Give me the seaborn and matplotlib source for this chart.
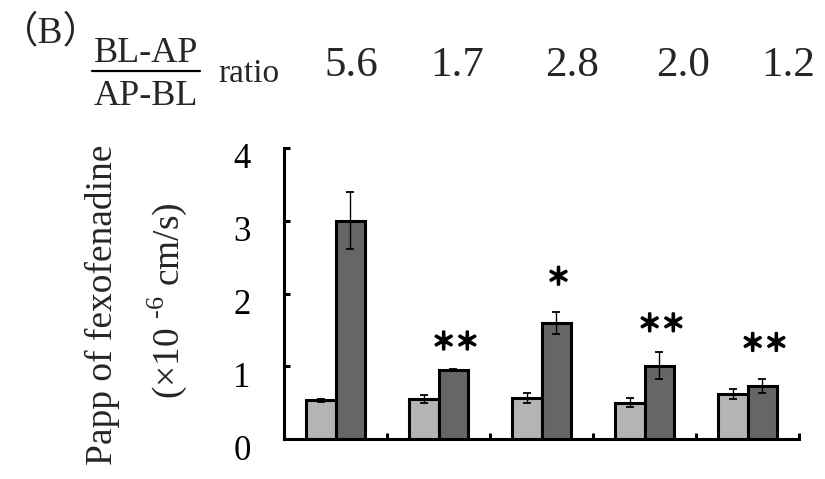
import numpy as np
import pandas as pd
import matplotlib
matplotlib.use("Agg")
import matplotlib.pyplot as plt
import matplotlib.patheffects as pe
import seaborn as sns
from matplotlib.lines import Line2D
from matplotlib.transforms import ScaledTranslation

# ---- data -------------------------------------------------------------
conditions = ["C1", "C2", "C3", "C4", "C5"]
directions = ["AP-BL", "BL-AP"]
ap_bl_mean = [0.53, 0.55, 0.56, 0.50, 0.62]
ap_bl_err = [0.02, 0.06, 0.07, 0.06, 0.07]
bl_ap_mean = [3.00, 0.95, 1.59, 1.01, 0.73]
bl_ap_err = [0.39, 0.01, 0.15, 0.18, 0.10]
ratio_labels = ["5.6", "1.7", "2.8", "2.0", "1.2"]
signif_labels = ["", "＊＊", "＊", "＊＊", "＊＊"]
signif_y = [0.0, 1.32, 2.21, 1.57, 1.30]
y_ticks = [0, 1, 2, 3, 4]

# ---- style ------------------------------------------------------------
sns.set_theme(style="ticks")
plt.rcParams["font.family"] = ["Liberation Serif", "Noto Sans CJK SC", "DejaVu Sans"]
plt.rcParams["mathtext.fontset"] = "custom"
plt.rcParams["mathtext.rm"] = "Liberation Serif"

W, H = 825, 479
fig = plt.figure(figsize=(W / 100, H / 100), dpi=100)
ax = fig.add_axes([284 / W, 1 - 439 / H, (799 - 284) / W, (439 - 148) / H])


def px(x, y):
    return x / W, 1 - y / H


df = pd.DataFrame({
    "condition": conditions * 2,
    "direction": [directions[0]] * 5 + [directions[1]] * 5,
    "papp": ap_bl_mean + bl_ap_mean,
})

light, dark = "#b4b4b4", "#666666"
sns.barplot(data=df, x="condition", y="papp", hue="direction",
            hue_order=directions, palette=[light, dark], width=0.58,
            edgecolor="black", linewidth=2.2, errorbar=None, legend=False,
            saturation=1, ax=ax)

# error bars on top of each bar
for cont, errs in zip(ax.containers, [ap_bl_err, bl_ap_err]):
    xs = [p.get_x() + p.get_width() / 2 for p in cont.patches]
    ys = [p.get_height() for p in cont.patches]
    ax.errorbar(xs, ys, yerr=errs, fmt="none", ecolor="black",
                elinewidth=1.0, capsize=3, capthick=1.3, zorder=5)

# significance marks above the BL-AP bars
dark_x = [p.get_x() + p.get_width() / 2 for p in ax.containers[1].patches]
for xc, lab, yv in zip(dark_x, signif_labels, signif_y):
    if lab:
        ax.text(xc + 0.02, yv, lab, ha="center", va="center",
                fontsize=17, family=["Noto Sans CJK SC"], color="black",
                path_effects=[pe.withStroke(linewidth=1.6, foreground="black")])

# axes
ax.set_xlim(-0.5, 4.5)
ax.set_ylim(0, 4)
ax.set_xlabel("")
ax.set_ylabel("")
ax.set_yticks(y_ticks)
ax.set_yticklabels([str(t) for t in y_ticks], fontsize=25)
ax.set_xticks([0.5, 1.5, 2.5, 3.5, 4.5])
ax.set_xticklabels([])
ax.tick_params(axis="y", direction="in", length=4, width=2.2, pad=24, colors="black")
ax.tick_params(axis="x", direction="in", length=4, width=2.2, colors="black")
shift = ScaledTranslation(0, -8 / 100, fig.dpi_scale_trans)
for lbl in ax.get_yticklabels():
    lbl.set_transform(lbl.get_transform() + shift)
for side in ["top", "right"]:
    ax.spines[side].set_visible(False)
for side in ["left", "bottom"]:
    ax.spines[side].set_linewidth(2.2)
    ax.spines[side].set_color("black")
ax.set_facecolor("white")

# y-axis title (two lines)
fig.text(*px(102, 305), "Papp of fexofenadine", rotation=90,
         ha="center", va="center", fontsize=27)
fig.text(*px(167, 301), "(×10 $^{\\mathregular{\u2010}6}$ cm/s)", rotation=90,
         ha="center", va="center", fontsize=27)

# panel letter and ratio header
fig.text(*px(1, 33), "（B）", ha="left", va="center", fontsize=27)
fig.text(*px(146, 54), "BL-AP", ha="center", va="center", fontsize=26)
fig.add_artist(Line2D([92 / W, 200 / W], [1 - 71 / H, 1 - 71 / H],
                      color="black", lw=1.6))
fig.text(*px(146, 97), "AP-BL", ha="center", va="center", fontsize=26)
fig.text(*px(249, 74), "ratio", ha="center", va="center", fontsize=24)
for xc, lab in zip([351, 457, 572, 683, 788], ratio_labels):
    fig.text(*px(xc, 66), lab, ha="center", va="center", fontsize=31)

fig.savefig("out.png", dpi=100, facecolor="white")
